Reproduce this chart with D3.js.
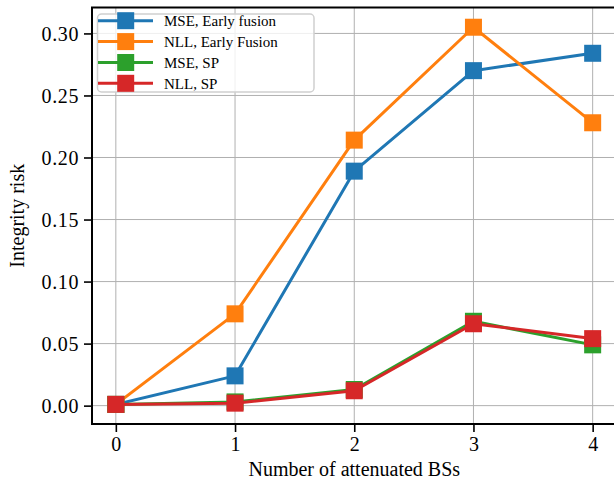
<!DOCTYPE html>
<html>
<head>
<meta charset="utf-8">
<script src="https://cdn.jsdelivr.net/npm/d3@7"></script>
<style>
  html, body { margin: 0; padding: 0; background: #fff; }
  svg { display: block; }
  text { font-family: "Liberation Serif", "Times New Roman", serif; fill: #000; }
</style>
</head>
<body>
<svg id="chart" width="614" height="489"></svg>
<script>
// Number of attenuated base stations on the x axis
const categories = [0, 1, 2, 3, 4];

// Integrity risk per method
const mseEarly = [0.001, 0.024, 0.189, 0.270, 0.284];
const nllEarly = [0.001, 0.074, 0.214, 0.305, 0.228];
const mseSP    = [0.001, 0.003, 0.013, 0.068, 0.049];
const nllSP    = [0.001, 0.002, 0.012, 0.066, 0.054];

const seriesNames  = ["MSE, Early fusion", "NLL, Early Fusion", "MSE, SP", "NLL, SP"];
const seriesColors = ["#1f77b4", "#ff7f0e", "#2ca02c", "#d62728"];

const xTicks = [0, 1, 2, 3, 4];
const yTicks = [0.00, 0.05, 0.10, 0.15, 0.20, 0.25, 0.30];

const series = [mseEarly, nllEarly, mseSP, nllSP].map((vals, i) => ({
  name: seriesNames[i],
  color: seriesColors[i],
  points: categories.map((c, j) => ({ x: c, y: vals[j] }))
}));

const svg = d3.select("#chart");
const plot = { left: 92, top: 7.5, right: 616.5, bottom: 424 };

const x = d3.scaleLinear().domain([-0.2, 4.2]).range([plot.left, plot.right]);
const y = d3.scaleLinear().domain([-0.0148, 0.3209]).range([plot.bottom, plot.top]);

// Grid
const grid = svg.append("g").attr("stroke", "#b0b0b0").attr("stroke-width", 1);
grid.selectAll("line.gx").data(xTicks).join("line")
  .attr("x1", d => x(d)).attr("x2", d => x(d))
  .attr("y1", plot.top).attr("y2", plot.bottom);
grid.selectAll("line.gy").data(yTicks).join("line")
  .attr("x1", plot.left).attr("x2", plot.right)
  .attr("y1", d => y(d)).attr("y2", d => y(d));

// Series: line then square markers
const line = d3.line().x(d => x(d.x)).y(d => y(d.y));
const markerSize = 17;
series.forEach(s => {
  const g = svg.append("g");
  g.append("path").datum(s.points)
    .attr("d", line).attr("fill", "none")
    .attr("stroke", s.color).attr("stroke-width", 3)
    .attr("stroke-linejoin", "round").attr("stroke-linecap", "square");
  g.selectAll("rect").data(s.points).join("rect")
    .attr("x", d => x(d.x) - markerSize / 2)
    .attr("y", d => y(d.y) - markerSize / 2)
    .attr("width", markerSize).attr("height", markerSize)
    .attr("fill", s.color);
});

// Axes
const xAxis = d3.axisBottom(x).tickValues(xTicks).tickFormat(d3.format("d"))
  .tickSize(8).tickPadding(5);
const yAxis = d3.axisLeft(y).tickValues(yTicks).tickFormat(d3.format(".2f"))
  .tickSize(8).tickPadding(5);

const gx = svg.append("g").attr("transform", `translate(0,${plot.bottom})`).call(xAxis);
const gy = svg.append("g").attr("transform", `translate(${plot.left},0)`).call(yAxis);
[gx, gy].forEach(g => {
  g.select(".domain").remove();
  g.selectAll(".tick line").attr("stroke", "#000").attr("stroke-width", 1.6);
  g.selectAll(".tick text")
    .style("font-family", "'Liberation Serif', serif")
    .style("font-size", "20px").attr("fill", "#000");
});
gy.selectAll(".tick text").attr("dy", "0.34em").attr("letter-spacing", "0.6px");

// Spines
svg.append("rect")
  .attr("x", plot.left).attr("y", plot.top)
  .attr("width", plot.right - plot.left).attr("height", plot.bottom - plot.top)
  .attr("fill", "none").attr("stroke", "#000").attr("stroke-width", 2);

// Axis labels
svg.append("text")
  .attr("x", (plot.left + plot.right) / 2).attr("y", 476)
  .attr("text-anchor", "middle").style("font-size", "20px")
  .text("Number of attenuated BSs");
svg.append("text")
  .attr("transform", `translate(24,${(plot.top + plot.bottom) / 2}) rotate(-90)`)
  .attr("text-anchor", "middle").style("font-size", "20px")
  .text("Integrity risk");

// Legend
const legend = svg.append("g");
legend.append("rect")
  .attr("x", 97.5).attr("y", 14).attr("width", 216.5).attr("height", 78)
  .attr("rx", 4).attr("fill", "#fff").attr("fill-opacity", 0.8)
  .attr("stroke", "#d0d0d0").attr("stroke-width", 1.5);
const rowY = [20.7, 41.6, 62.5, 83.3];
series.forEach((s, i) => {
  const row = legend.append("g");
  row.append("line")
    .attr("x1", 98).attr("x2", 153).attr("y1", rowY[i]).attr("y2", rowY[i])
    .attr("stroke", s.color).attr("stroke-width", 3);
  row.append("rect")
    .attr("x", 125.7 - markerSize / 2).attr("y", rowY[i] - markerSize / 2)
    .attr("width", markerSize).attr("height", markerSize).attr("fill", s.color);
  row.append("text")
    .attr("x", 164).attr("y", rowY[i]).attr("dy", "0.35em")
    .style("font-size", "15px").text(s.name);
});
</script>
</body>
</html>
